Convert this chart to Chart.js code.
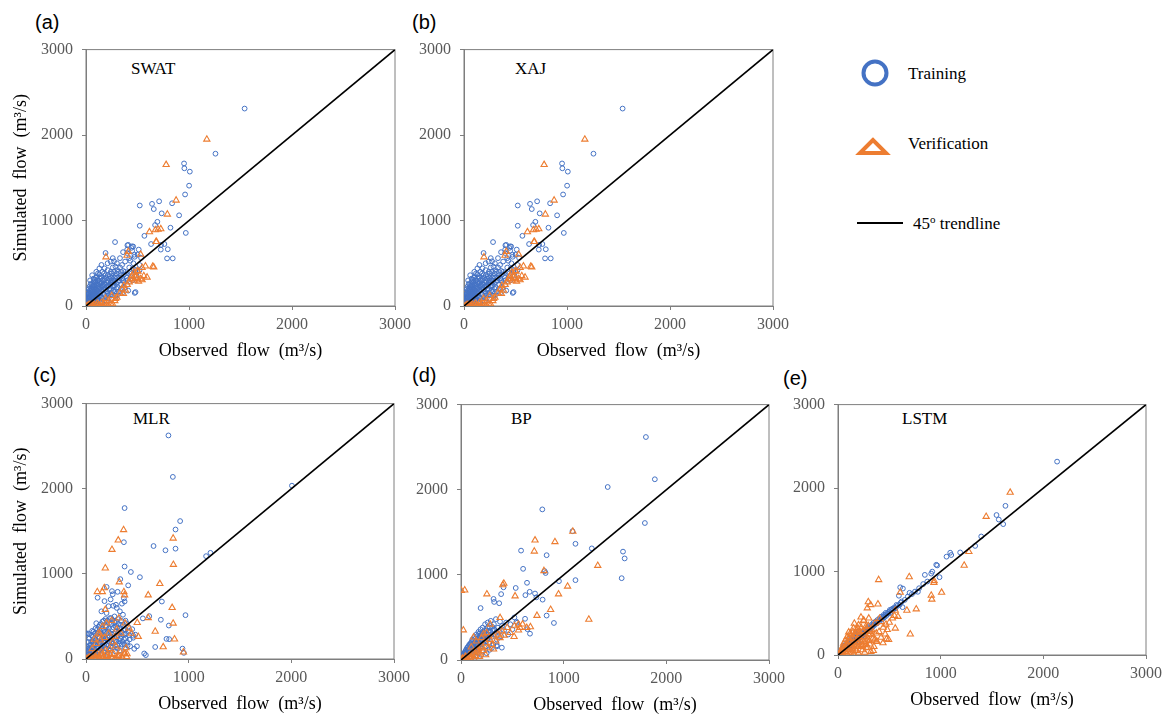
<!DOCTYPE html>
<html>
<head>
<meta charset="utf-8">
<script src="https://cdn.jsdelivr.net/npm/chart.js@4.4.0/dist/chart.umd.min.js"></script>
<style>
body { margin: 0; background: #fff; width: 1165px; height: 718px; position: relative; overflow: hidden; }
canvas { position: absolute; }
.tag { position: absolute; font-family: 'Liberation Sans', Arial, sans-serif; font-size: 20px; line-height: 20px; color: #000; transform: translateY(-50%); }
.model { position: absolute; font-family: 'Liberation Serif', 'Times New Roman', serif; font-size: 17px; line-height: 17px; color: #000; transform: translateY(-50%); }
.leg { position: absolute; font-family: 'Liberation Serif', 'Times New Roman', serif; font-size: 17px; line-height: 17px; color: #000; transform: translateY(-50%); }
.leg sup { font-size: 11px; vertical-align: 6px; line-height: 0; }
</style>
</head>
<body>

<div class="tag" style="left:35px;top:22px">(a)</div>
<div class="tag" style="left:412px;top:22px">(b)</div>
<div class="tag" style="left:33px;top:375px">(c)</div>
<div class="tag" style="left:412px;top:375px">(d)</div>
<div class="tag" style="left:783px;top:378px">(e)</div>

<div class="model" style="left:131px;top:68px">SWAT</div>
<div class="model" style="left:515px;top:68px">XAJ</div>
<div class="model" style="left:133px;top:418px">MLR</div>
<div class="model" style="left:511px;top:418px">BP</div>
<div class="model" style="left:902px;top:418px">LSTM</div>

<svg style="position:absolute;left:0;top:0" width="1165" height="300">
  <circle cx="875" cy="73" r="11.5" fill="none" stroke="#4472C4" stroke-width="4"/>
  <polygon points="873,140 860,153 886,153" fill="none" stroke="#ED7D31" stroke-width="4" stroke-linejoin="miter"/>
  <line x1="857" y1="223" x2="903" y2="223" stroke="#000" stroke-width="2"/>
</svg>
<div class="leg" style="left:908px;top:73px">Training</div>
<div class="leg" style="left:908px;top:143px">Verification</div>
<div class="leg" style="left:913px;top:223px">45<sup>o</sup> trendline</div>

<script>
// observed vs simulated flow [observed, simulated]
const axisTicks = [0, 1000, 2000, 3000];
const trendline = [0, 3000];

const swatTrain = [
  [1540,2310],[1257,1782],[952,1668],[955,1611],[1008,1572],[1001,1408],[962,1305],[522,1176],[641,1195],[710,1225],
  [658,1134],[836,1202],[735,1084],[904,1061],[693,985],[671,947],[522,939],[820,916],[969,855],[567,821],
  [282,748],[632,725],[761,725],[726,660],[794,664],[787,557],[842,557],[447,698],[402,710],[512,660],
  [473,576],[473,153],[272,523],[410,715],[458,696],[448,646],[400,620],[535,563],[481,163],[729,715],
  [5,8],[8,30],[12,55],[15,15],[18,90],[20,40],[22,120],[25,5],[28,70],[30,150],[32,30],[35,100],[38,180],
  [40,55],[42,10],[45,130],[48,210],[50,80],[52,35],[55,160],[58,250],[60,110],[62,60],[65,190],[68,20],
  [70,140],[72,280],[75,90],[78,220],[80,45],[82,170],[85,310],[88,120],[90,70],[92,250],[95,200],[98,150],
  [100,30],[102,340],[105,100],[108,270],[110,180],[112,60],[115,230],[118,130],[120,300],[125,80],[128,200],
  [130,370],[135,150],[140,260],[142,40],[145,110],[150,330],[155,190],[158,80],[160,400],[165,240],[170,140],
  [175,300],[180,60],[185,210],[190,360],[195,120],[200,270],[205,170],[210,420],[215,230],[220,90],[225,320],
  [230,190],[240,280],[245,140],[250,380],[255,230],[260,450],[265,180],[270,300],[280,240],[285,120],[290,350],
  [300,200],[305,420],[310,280],[320,170],[330,330],[340,250],[350,480],[360,300],[370,210],[380,400],[390,350],
  [400,250],[410,180],[420,450],[440,380],[450,300],[460,500],[480,420],[500,600],[420,560],[380,520],[330,560],
  [360,630],[440,680],[300,500],[260,560],[240,520],[180,440],[150,480],[210,500],[190,620],[340,400],[400,300],
  [350,150],[300,120],[250,80],[200,50],[400,660],[430,530],[470,600],[520,480],[520,420],[490,360],
  [3,20],[6,45],[9,70],[11,100],[14,130],[17,160],[19,60],[23,85],[26,140],[29,200],[33,110],[36,230],[39,75],
  [43,170],[46,260],[49,120],[53,200],[56,90],[59,140],[63,230],[66,100],[69,170],[73,320],[76,240],[79,130],
  [83,200],[86,150],[89,280],[93,110],[96,330],[99,190],[103,240],[106,140],[109,300],[113,210],[116,380],
  [119,170],[123,250],[126,110],[129,330],[133,280],[137,210],[141,350],[146,170],[151,270],[156,230],[161,300],
  [166,200],[171,260],[176,380],[181,320],[186,250],[191,190],[196,330],[201,230],[206,300],[211,360],[216,280],
  [221,240],[226,200],[231,350],[236,250],[241,400],[246,330],[251,300],[256,270],[261,350],[266,240],[271,400],
  [276,330],[281,290],[286,460],[291,270],[296,380],[301,330],[311,400],[321,300],[331,450],[341,360],[351,320],
  [361,410],[371,370],[220,130],[250,160],[280,170],[310,220],[340,200],[370,280],[395,330],[430,400],[455,440],
  [30,25],[60,40],[90,55],[120,90],[150,100],[180,130],[210,150],[40,300],[60,360],[100,400],[130,440]
];
const swatVerif = [
  [1173,1950],[778,1653],[875,1237],[790,1073],[616,866],[674,889],[700,897],[726,901],[680,752],[194,573],
  [648,462],[577,466],[411,637],[505,405],[482,336],[528,317],[447,355],[398,592],[531,603],[363,145],
  [431,317],[593,336],[465,392],[497,411],[545,449],[455,316],[500,327],[545,304],[510,289],[561,353],
  [368,240],[384,183],[190,87],[287,87],[45,11],[100,11],[160,11],[200,11],[10,0],[58,11],[123,11],
  [240,30],[280,60],[300,100],[330,150],[250,120],[220,60],[150,40],[80,20],[20,5],[350,200],[420,280],
  [400,250],[470,300],[658,456],[684,753],[75,0],[140,0],[175,25],[215,10],[260,20],[110,30],[30,15]
];
// (b) XAJ shows the same scatter as (a)
const xajTrain = swatTrain;
const xajVerif = swatVerif;

const mlrTrain = [
  [803,2626],[846,2139],[376,1773],[917,1620],[872,1521],[369,1372],[872,1296],[658,1327],[774,1277],[1170,1208],
  [1212,1247],[2006,2036],[376,1086],[437,1022],[525,961],[334,938],[411,865],[201,846],[253,797],[308,789],
  [369,713],[292,637],[266,625],[376,675],[113,720],[969,515],[729,461],[807,393],[784,236],[810,233],
  [674,141],[496,149],[567,65],[583,46],[940,122],[953,72],[0,301],[739,675],[616,503],[554,477],[460,274],[480,286],
  [5,10],[10,40],[15,80],[20,20],[25,120],[30,60],[35,160],[40,10],[45,90],[50,200],[55,40],[60,130],[65,260],
  [70,70],[75,180],[80,20],[85,300],[90,110],[95,220],[100,50],[105,150],[110,350],[115,90],[120,260],[125,30],
  [130,190],[135,400],[140,120],[145,300],[150,60],[155,230],[160,440],[165,150],[170,340],[175,80],[180,270],
  [185,190],[190,470],[195,120],[200,380],[205,230],[210,60],[215,320],[220,160],[225,420],[230,260],[240,100],
  [245,480],[250,200],[255,350],[260,140],[270,300],[275,430],[280,220],[285,90],[290,380],[300,260],[305,160],
  [310,470],[320,330],[325,210],[330,100],[340,400],[345,270],[350,170],[360,520],[365,340],[370,230],[380,130],
  [385,450],[390,300],[400,200],[410,380],[420,280],[430,150],[450,350],[460,250],[470,120],[100,420],[60,330],
  [30,290],[200,540],[150,560],[220,620],[240,700],[260,760],[180,680],[300,600],[330,560],[350,650],[20,300],
  [8,70],[12,140],[18,50],[22,200],[28,100],[33,240],[38,130],[43,50],[48,170],[53,280],[58,100],[63,210],
  [68,140],[73,320],[78,90],[83,240],[88,170],[93,360],[98,280],[103,120],[108,210],[113,300],[118,180],
  [123,380],[128,100],[133,250],[138,330],[143,200],[148,410],[153,130],[158,350],[163,270],[168,200],[173,450],
  [178,160],[183,320],[188,240],[193,390],[198,170],[203,300],[208,450],[213,250],[218,110],[223,360],[228,200],
  [233,480],[238,300],[243,150],[248,410],[253,260],[258,460],[263,180],[268,370],[273,250],[278,500],[283,160],
  [288,320],[293,440],[298,200],[303,370],[308,120],[313,280],[318,410],[323,180],[328,360],[335,240],[342,450],
  [348,310],[355,200],[362,400],[368,290],[375,170],[382,350],[388,240],[395,420],[405,160],[415,320],[425,230]
];
const mlrVerif = [
  [366,1517],[314,1395],[253,1285],[188,1067],[849,1418],[851,1109],[719,884],[324,903],[110,789],[159,789],
  [178,835],[369,789],[376,751],[606,751],[188,579],[839,602],[849,419],[606,484],[674,324],[862,233],
  [752,141],[949,80],[499,427],[509,263],[379,65],[152,46],[39,15],[104,15],[201,27],[298,15],[395,27],
  [282,263],[136,293],
  [10,5],[30,20],[50,10],[70,40],[90,15],[110,60],[130,20],[150,80],[170,30],[190,100],[210,40],[230,120],
  [250,15],[270,60],[290,150],[310,30],[330,90],[350,20],[370,60],[390,130],[60,120],[100,180],[140,220],
  [180,250],[220,300],[260,200],[300,350],[340,300],[120,300],[80,230],[200,420],[160,380],[250,450],[320,480],
  [380,420],[420,360],[440,300],[20,0],[60,0],[80,10],[120,5],[160,10],[180,0],[220,10],[240,50],[280,5],
  [320,40],[360,10],[400,60]
];

const bpTrain = [
  [1801,2619],[1888,2123],[1429,2032],[792,1769],[1791,1609],[1086,1513],[1115,1365],[1274,1311],[585,1285],[834,1231],
  [1578,1273],[1594,1193],[1565,961],[1115,938],[605,1071],[815,1044],[824,1022],[954,926],[643,907],[533,846],
  [414,854],[669,801],[721,781],[627,762],[795,709],[734,736],[317,717],[191,610],[323,682],[372,667],
  [391,774],[834,522],[905,435],[672,309],[647,362],[624,484],[546,438],[398,145],[349,172],
  [5,10],[10,30],[15,5],[20,50],[25,25],[30,70],[35,15],[40,90],[45,45],[50,120],[55,30],[60,80],[65,150],
  [70,55],[75,110],[80,180],[85,40],[90,130],[95,200],[100,80],[105,160],[110,240],[115,100],[120,190],[125,60],
  [130,270],[135,140],[140,210],[145,90],[150,300],[155,170],[160,240],[165,120],[170,330],[175,200],[180,270],
  [185,150],[190,360],[195,230],[200,300],[205,110],[210,380],[215,260],[220,190],[230,320],[235,420],[240,160],
  [250,350],[255,250],[260,440],[270,300],[275,200],[280,380],[290,460],[300,270],[310,350],[315,180],[320,420],
  [330,300],[340,480],[350,240],[360,380],[370,330],[380,450],[390,280],[400,400],[420,350],[440,440],[460,300],
  [480,420],[500,360],[520,500],[540,450],[250,80],[300,140],[350,160],[280,120],[200,60],[150,40],[100,20],
  [8,20],[13,45],[18,28],[23,65],[28,40],[33,85],[38,55],[43,105],[48,70],[53,95],[58,140],[63,110],[68,75],
  [73,160],[78,130],[83,95],[88,185],[93,150],[98,115],[103,210],[108,130],[113,175],[118,230],[123,150],
  [128,200],[133,110],[138,250],[143,180],[148,135],[153,220],[158,280],[163,190],[168,150],[173,250],[178,310],
  [183,220],[188,180],[193,280],[198,240],[203,190],[208,320],[213,230],[218,290],[225,250],[232,350],[238,280],
  [245,220],[252,300],[258,380],[265,260],[272,340],[278,280],[285,330],[295,300],[305,390],[325,360],[345,330]
];
const bpVerif = [
  [721,1407],[915,1388],[714,1277],[1089,1510],[1332,1109],[808,1048],[417,900],[407,881],[3,816],[36,820],
  [252,774],[527,751],[1038,865],[950,774],[1245,477],[873,591],[740,522],[23,351],[317,126],[517,274],
  [676,389],[575,381],[559,419],[123,267],[220,305],[285,419],[381,496],[91,57],[155,114],[42,38],
  [5,5],[15,20],[30,10],[45,40],[60,25],[80,60],[100,35],[120,90],[140,50],[160,130],[180,80],[200,160],
  [220,110],[240,200],[260,140],[280,240],[300,180],[320,280],[340,220],[360,300],[380,260],[400,340],[420,290],
  [450,380],[480,320],[520,400],[560,350],[600,420],[640,380],[150,220],[100,150],[200,260],[250,320],[180,40],
  [240,60],[130,10],[70,5],[20,0],[50,10],[90,20],[110,60],[170,100],[210,140]
];

const lstmTrain = [
  [2134,2317],[1631,1787],[1544,1677],[1566,1623],[1609,1568],[1336,1307],[1395,1420],[1190,1229],[1093,1225],[1057,1178],
  [1103,1198],[957,1081],[966,1073],[918,999],[846,960],[989,932],[908,975],[697,745],[593,710],[629,573],
  [606,811],[632,796],[778,757],
  [5,5],[10,15],[15,12],[20,25],[25,22],[30,38],[35,30],[40,48],[45,42],[50,60],[55,50],[60,72],[65,62],
  [70,80],[75,70],[80,92],[85,82],[90,100],[95,90],[100,115],[105,100],[110,125],[115,110],[120,138],[125,118],
  [130,150],[140,145],[150,165],[160,158],[170,185],[180,175],[190,205],[200,195],[210,225],[220,215],[230,245],
  [240,235],[250,265],[260,255],[270,285],[280,278],[290,305],[300,300],[310,325],[320,318],[330,345],[340,340],
  [350,365],[360,362],[370,385],[380,380],[390,405],[400,400],[420,430],[430,425],[440,455],[450,450],[460,480],
  [470,470],[480,500],[490,495],[500,520],[510,505],[520,540],[540,545],[550,570],[560,560],[580,590],[600,600],
  [620,640],[650,660],[680,700],[720,730],[750,760],[790,800],[830,850],[870,880],[100,160],[120,200],[150,220],
  [180,250],[200,280],[130,90],[160,120],[200,160],[60,110],[80,140],
  [12,30],[22,45],[32,55],[42,70],[52,85],[62,95],[72,110],[82,120],[92,130],[102,145],[112,150],[135,160],
  [145,180],[165,200],[185,220],[205,240],[225,260],[245,285],[265,300],[285,320],[305,345],[325,360],[345,385],
  [365,400],[385,420],[405,440],[425,460],[445,480],[465,505],[505,540],[530,555],[570,600],[610,625]
];
const lstmVerif = [
  [1677,1947],[1443,1658],[1275,1237],[1229,1073],[937,889],[934,866],[694,936],[396,901],[1009,749],[908,714],
  [914,667],[762,550],[671,534],[558,534],[584,460],[389,609],[295,636],[318,601],[285,562],[606,749],
  [558,320],[704,250],[473,191],[493,183],[467,367],[480,304],[159,378],[224,452],[250,417],[104,273],
  [344,51],[243,125],[276,86],[178,105],[146,47],[65,66],[97,125],[211,242],[195,320],[276,320],[308,281],
  [373,261],[373,164],[438,144],[405,437],[422,398],
  [10,5],[20,30],[30,10],[40,60],[50,20],[60,90],[70,40],[80,120],[90,15],[100,60],[110,160],[120,30],
  [130,200],[140,80],[150,10],[160,240],[170,120],[180,50],[190,190],[200,20],[210,280],[220,100],[230,150],
  [240,60],[250,220],[260,30],[270,340],[280,180],[290,90],[300,250],[310,130],[320,40],[330,300],[340,200],
  [350,100],[360,380],[380,160],[400,280],[420,210],[440,330],[460,250],[500,390],[530,440],[550,470],[150,320],
  [200,360],[250,410],[300,440],[180,300],[120,260],[90,220],
  [25,50],[45,100],[55,140],[75,180],[85,60],[105,200],[115,100],[125,240],[135,140],[145,280],[155,200],
  [165,70],[175,270],[185,150],[195,100],[205,220],[215,180],[225,330],[235,110],[245,290],[255,160],[265,250],
  [275,130],[285,210],[295,350],[305,170],[315,300],[335,240],[355,180]
];

const serif = "'Liberation Serif', 'Times New Roman', serif";
const axisGray = '#7f7f7f';

// plot box of each panel on the page: left, top, right, bottom
const panels = [
  { train: swatTrain, verif: swatVerif, box: [86, 43, 396, 306], yTitle: true },
  { train: xajTrain, verif: xajVerif, box: [464, 43, 774, 306], yTitle: false },
  { train: mlrTrain, verif: mlrVerif, box: [86, 397, 395, 659], yTitle: true },
  { train: bpTrain, verif: bpVerif, box: [461, 398, 770, 660], yTitle: false },
  { train: lstmTrain, verif: lstmVerif, box: [838, 398, 1147, 655], yTitle: false }
];

const frame = {
  id: 'frame',
  beforeDatasetsDraw(chart) {
    const { ctx, chartArea: a } = chart;
    ctx.save();
    ctx.strokeStyle = axisGray;
    ctx.lineWidth = 1;
    ctx.strokeRect(a.left, a.top, a.right - a.left, a.bottom - a.top);
    ctx.restore();
  }
};

const toXY = arr => arr.map(p => ({ x: p[0], y: p[1] }));

function axis(titleText, showTitle, isX) {
  return {
    type: 'linear',
    min: 0,
    max: 3000,
    afterBuildTicks: s => { s.ticks = axisTicks.map(v => ({ value: v })); },
    afterFit: s => { if (isX) s.height = 60; else s.width = 86; },
    grid: { drawOnChartArea: false, tickLength: 4, color: axisGray },
    border: { color: axisGray, width: 1 },
    ticks: {
      color: '#595959',
      font: { family: serif, size: 16 },
      padding: isX ? 5 : 9,
      maxRotation: 0,
      autoSkip: false,
      callback: v => String(v)
    },
    title: {
      display: showTitle,
      text: titleText,
      color: '#000',
      font: { family: serif, size: 18 },
      padding: isX ? { top: 0, bottom: 4 } : { top: 10, bottom: 0 }
    }
  };
}

panels.forEach(p => {
  const [L, T, R, B] = p.box;
  const cv = document.createElement('canvas');
  cv.width = 86 + (R - L) + 20;
  cv.height = 12 + (B - T) + 60;
  cv.style.left = (L - 86) + 'px';
  cv.style.top = (T - 12) + 'px';
  document.body.appendChild(cv);

  new Chart(cv, {
    type: 'scatter',
    data: {
      datasets: [
        {
          label: '45o trendline',
          data: trendline.map(v => ({ x: v, y: v })),
          showLine: true,
          borderColor: '#000',
          borderWidth: 1.6,
          pointRadius: 0,
          order: 0
        },
        {
          label: 'Verification',
          data: toXY(p.verif),
          pointStyle: 'triangle',
          pointRadius: 3.6,
          borderColor: '#ED7D31',
          backgroundColor: 'rgba(0,0,0,0)',
          borderWidth: 1.1,
          order: 1
        },
        {
          label: 'Training',
          data: toXY(p.train),
          pointStyle: 'circle',
          pointRadius: 2.4,
          borderColor: '#4472C4',
          backgroundColor: 'rgba(0,0,0,0)',
          borderWidth: 1,
          order: 2
        }
      ]
    },
    options: {
      responsive: false,
      animation: false,
      events: [],
      layout: { padding: { top: 12, right: 20, left: 0, bottom: 0 } },
      plugins: { legend: { display: false }, tooltip: { enabled: false } },
      scales: {
        x: axis('Observed  flow  (m³/s)', true, true),
        y: axis('Simulated  flow  (m³/s)', p.yTitle, false)
      }
    },
    plugins: [frame]
  });
});
</script>
</body>
</html>
